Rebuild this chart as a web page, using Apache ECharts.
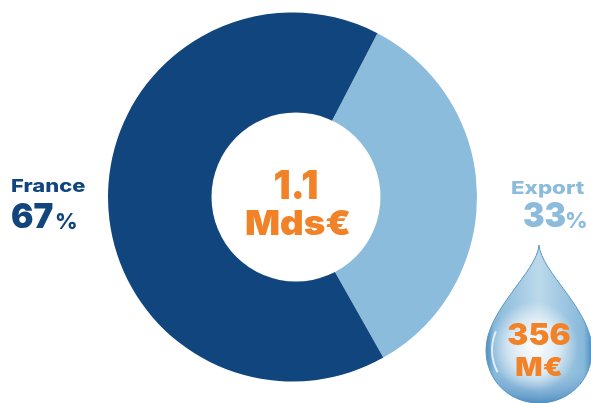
<!DOCTYPE html>
<html><head><meta charset="utf-8">
<style>html,body{margin:0;padding:0;background:#fff}#c{width:591px;height:403px}</style>
<script src="https://cdn.jsdelivr.net/npm/echarts@6/dist/echarts.min.js"></script>
</head><body><div id="c"></div>
<script>
const categories = ['Export', 'France'];
const percentLabels = ['33', '67'];
const sliceValues = [34.2, 65.8];
const sliceColors = ['#8CBCDC', '#11457E'];
const totalLabel = ['1.1', 'Mds€'];
const dropLabel = ['356', 'M€'];
const orange = '#F28227';
const font = 'Inter, "DejaVu Sans", sans-serif';
const txt = (x, y, text, size, fill, sx = 1, align = 'center', weight = 900, z = 10) => ({
  type: 'text', x, y, z, scaleX: sx, originX: 0, originY: 0,
  style: { text, fontFamily: font, fontWeight: weight, fontSize: size, fill, align, verticalAlign: 'middle' }
});
echarts.graphic.registerShape('waterDrop', echarts.graphic.extendPath(
  'M539 245 C537 272 486 310 486 350 C486 381 510 403 539 403 C568 403 592 381 592 350 C592 310 541 272 539 245 Z', {}));
const G = echarts.graphic;
const chart = echarts.init(document.getElementById('c'), null, { renderer: 'canvas' });
chart.setOption({
  animation: false,
  backgroundColor: '#fff',
  series: [{
    type: 'pie', center: [292.5, 197], radius: [0, 184.5], startAngle: 62.6, clockwise: true,
    silent: true, label: { show: false }, labelLine: { show: false },
    data: categories.map((name, i) => ({ name, value: sliceValues[i], itemStyle: { color: sliceColors[i] } }))
  }],
  graphic: [
    { type: 'circle', z: 5, shape: { cx: 296, cy: 197, r: 84.5 }, style: { fill: '#fff' } },
    txt(296, 187, totalLabel[0], 40, orange, 0.95),
    txt(298, 225, totalLabel[1], 34, orange, 1.08),
    txt(11, 187, categories[1], 18, sliceColors[1], 1.22, 'left', 800),
    txt(11, 218, percentLabels[1], 34, sliceColors[1], 0.98, 'left'),
    txt(55, 222, '%', 22, sliceColors[1], 1, 'left', 800),
    txt(511, 189, categories[0], 18, sliceColors[0], 1.24, 'left', 800),
    txt(523, 217, percentLabels[0], 34, sliceColors[0], 0.95, 'left'),
    txt(565, 221, '%', 22, sliceColors[0], 1, 'left', 800),
    { type: 'waterDrop', z: 6, shape: {},
      style: { stroke: '#5B97C4', lineWidth: 1, fill: new G.LinearGradient(0, 0, 1, 0, [
        { offset: 0, color: '#4A8ABB' }, { offset: 0.08, color: '#86B8DA' }, { offset: 0.5, color: '#BCD9EB' }, { offset: 0.92, color: '#86B8DA' }, { offset: 1, color: '#4A8ABB' } ]) } },
    { type: 'waterDrop', z: 7, shape: {},
      style: { fill: new G.LinearGradient(0, 0, 0, 1, [
        { offset: 0, color: 'rgba(120,170,210,0)' }, { offset: 0.8, color: 'rgba(120,170,210,0)' }, { offset: 1, color: 'rgba(70,135,190,0.9)' } ]) } },
    { type: 'waterDrop', z: 8, shape: {},
      style: { fill: new G.RadialGradient(0.45, 0.64, 0.42, [
        { offset: 0, color: 'rgba(255,255,255,0.95)' }, { offset: 0.6, color: 'rgba(255,255,255,0.55)' }, { offset: 1, color: 'rgba(255,255,255,0)' } ]) } },
    { type: 'arc', z: 9, shape: { cx: 539, cy: 350, r: 47, startAngle: 2.65, endAngle: 3.55 },
      style: { fill: null, stroke: 'rgba(255,255,255,0.75)', lineWidth: 2 } },
    txt(539, 336, dropLabel[0], 30, orange, 1.05),
    txt(539, 368, dropLabel[1], 26, orange, 1.1)
  ]
});
</script></body></html>
